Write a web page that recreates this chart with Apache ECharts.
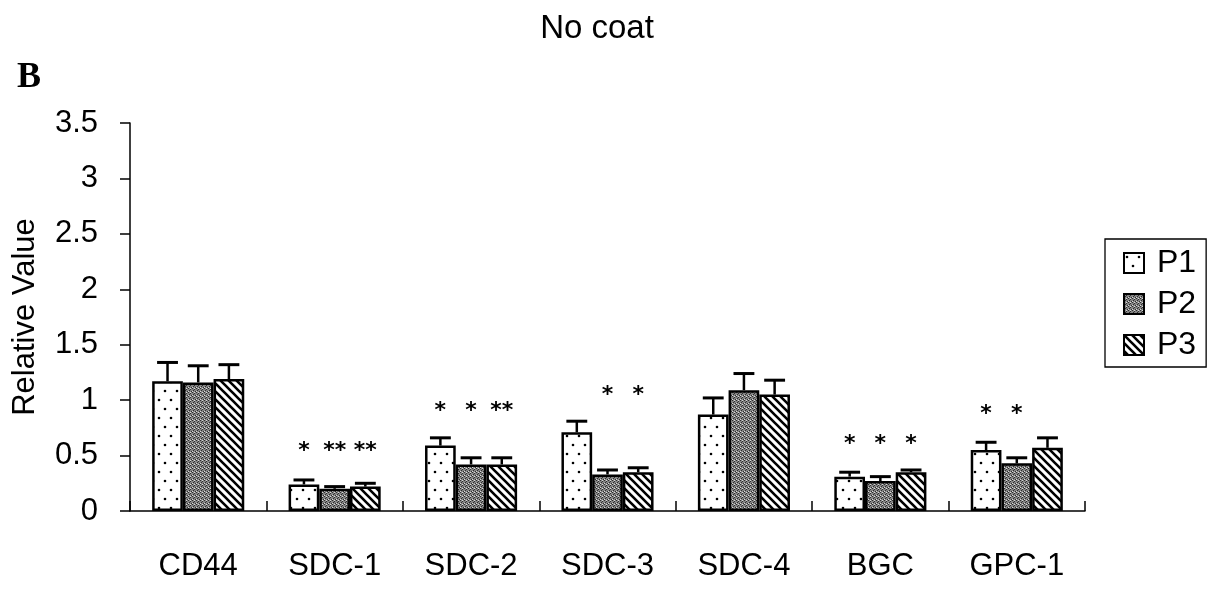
<!DOCTYPE html>
<html>
<head>
<meta charset="utf-8">
<title>No coat</title>
<script src="https://cdn.jsdelivr.net/npm/echarts@6/dist/echarts.min.js"></script>
<style>
  html, body { margin: 0; padding: 0; background: #fff; }
  #chart { width: 1213px; height: 592px; }
</style>
</head>
<body>
<div id="chart"></div>
<script>
  // values
  const categories = ['CD44', 'SDC-1', 'SDC-2', 'SDC-3', 'SDC-4', 'BGC', 'GPC-1']
  const seriesNames = ['P1', 'P2', 'P3']
  const p1 = [1.17, 0.24, 0.59, 0.71, 0.87, 0.31, 0.55]
  const p2 = [1.16, 0.20, 0.42, 0.33, 1.09, 0.27, 0.43]
  const p3 = [1.19, 0.22, 0.42, 0.35, 1.05, 0.35, 0.57]
  const p1Err = [0.17, 0.04, 0.07, 0.10, 0.15, 0.04, 0.07]
  const p2Err = [0.15, 0.02, 0.06, 0.04, 0.15, 0.04, 0.05]
  const p3Err = [0.13, 0.03, 0.06, 0.04, 0.13, 0.02, 0.09]
  const p1Stars = ['', '*', '*', '', '', '*', '*']
  const p2Stars = ['', '**', '*', '*', '', '*', '*']
  const p3Stars = ['', '**', '**', '*', '', '*', '']
  const starLevel = [0, 0.57, 0.93, 1.07, 0, 0.63, 0.90]
  const yTicks = [0, 0.5, 1, 1.5, 2, 2.5, 3, 3.5]

  const values = [p1, p2, p3]
  const errs = [p1Err, p2Err, p3Err]
  const stars = [p1Stars, p2Stars, p3Stars]
  const gapRatio = 0.325
  const font = '"Liberation Sans", Arial, sans-serif'

  function makeTile (w, h, draw) {
    let c = document.createElement('canvas')
    c.width = w
    c.height = h
    let ctx = c.getContext('2d')
    ctx.fillStyle = '#fff'
    ctx.fillRect(0, 0, w, h)
    draw(ctx)
    return c
  }

  // dotted
  let dotTile = makeTile(12, 18, function (ctx) {
    ctx.fillStyle = '#000'
    ctx.beginPath(); ctx.arc(3, 4, 1.3, 0, Math.PI * 2); ctx.fill()
    ctx.beginPath(); ctx.arc(9, 13, 1.3, 0, Math.PI * 2); ctx.fill()
  })
  // dark stipple
  let greyTile = makeTile(4, 4, function (ctx) {
    ctx.fillStyle = '#858585'
    ctx.fillRect(0, 0, 4, 4)
    ctx.fillStyle = '#2e2e2e'
    ctx.fillRect(0, 0, 1, 1); ctx.fillRect(2, 1, 1, 1)
    ctx.fillRect(1, 2, 1, 1); ctx.fillRect(3, 3, 1, 1)
    ctx.fillStyle = '#d8d8d8'
    ctx.fillRect(2, 0, 1, 1); ctx.fillRect(0, 3, 1, 1)
  })
  // diagonal hatch
  let hatchTile = makeTile(8, 8, function (ctx) {
    ctx.strokeStyle = '#000'
    ctx.lineWidth = 2.6
    ctx.beginPath()
    ctx.moveTo(-2, -2); ctx.lineTo(10, 10)
    ctx.moveTo(-2, 6); ctx.lineTo(2, 10)
    ctx.moveTo(6, -2); ctx.lineTo(10, 2)
    ctx.stroke()
  })
  const fills = [dotTile, greyTile, hatchTile]

  function barX (api, cat, s) {
    let band = api.size([1, 0])[0]
    let w = band * (1 - gapRatio) / 3
    let cx = api.coord([cat, 0])[0]
    return { x: cx + (s - 1) * w, w: w }
  }

  let errData = []
  let starData = []
  for (let s = 0; s < 3; s++) {
    for (let i = 0; i < categories.length; i++) {
      errData.push([i, s, values[s][i], values[s][i] + errs[s][i]])
      if (stars[s][i]) starData.push([i, s, starLevel[i], stars[s][i]])
    }
  }

  let barSeries = seriesNames.map(function (name, s) {
    return {
      name: name,
      type: 'bar',
      data: values[s],
      barGap: '0%',
      barCategoryGap: (gapRatio * 100) + '%',
      itemStyle: {
        color: { image: fills[s], repeat: 'repeat' },
        borderColor: '#000',
        borderWidth: 2.5
      }
    }
  })

  let chart = echarts.init(document.getElementById('chart'))
  chart.setOption({
    backgroundColor: '#fff',
    animation: false,
    title: [
      {
        text: 'No coat',
        left: 592,
        top: 7,
        textAlign: 'center',
        textStyle: { fontFamily: font, fontSize: 33, fontWeight: 'normal', color: '#000' }
      },
      {
        text: 'B',
        left: 12,
        top: 55,
        textStyle: { fontFamily: '"Liberation Serif", "Times New Roman", serif', fontSize: 36, fontWeight: 'bold', color: '#000' }
      }
    ],
    legend: {
      data: seriesNames,
      orient: 'vertical',
      icon: 'rect',
      left: 1105,
      top: 239,
      padding: [8, 10, 6, 18],
      itemWidth: 20,
      itemHeight: 20,
      itemGap: 9,
      borderColor: '#000',
      borderWidth: 1.3,
      textStyle: { fontFamily: font, fontSize: 32, color: '#000', lineHeight: 30, padding: [0, 0, 0, 8] }
    },
    grid: {
      left: 130,
      right: 128,
      top: 123,
      bottom: 81
    },
    xAxis: {
      type: 'category',
      data: categories,
      axisLine: { lineStyle: { color: '#000', width: 1.5 } },
      axisTick: { show: true, inside: true, length: 10, lineStyle: { color: '#000', width: 1.5 } },
      axisLabel: { margin: 40, fontFamily: font, fontSize: 31, color: '#000' }
    },
    yAxis: {
      type: 'value',
      min: yTicks[0],
      max: yTicks[yTicks.length - 1],
      interval: 0.5,
      name: 'Relative Value',
      nameLocation: 'middle',
      nameGap: 89,
      nameTextStyle: { fontFamily: font, fontSize: 31, color: '#000' },
      axisLine: { show: true, lineStyle: { color: '#000', width: 1.5 } },
      axisTick: { show: true, length: 10, lineStyle: { color: '#000', width: 1.5 } },
      splitLine: { show: false },
      axisLabel: { margin: 32, fontFamily: font, fontSize: 31, color: '#000' }
    },
    series: barSeries.concat([
      {
        name: 'err',
        type: 'custom',
        data: errData,
        z: 3,
        renderItem: function (params, api) {
          let b = barX(api, api.value(0), api.value(1))
          let yLow = api.coord([0, api.value(2)])[1]
          let yHigh = api.coord([0, api.value(3)])[1]
          let half = b.w * 0.34
          return {
            type: 'group',
            children: [
              { type: 'line', shape: { x1: b.x, y1: yLow, x2: b.x, y2: yHigh }, style: { stroke: '#000', lineWidth: 2.5 } },
              { type: 'line', shape: { x1: b.x - half, y1: yHigh, x2: b.x + half, y2: yHigh }, style: { stroke: '#000', lineWidth: 3 } }
            ]
          }
        }
      },
      {
        name: 'stars',
        type: 'custom',
        data: starData,
        z: 3,
        renderItem: function (params, api) {
          let b = barX(api, api.value(0), api.value(1))
          let y = api.coord([0, api.value(2)])[1]
          return {
            type: 'text',
            style: {
              x: b.x,
              y: y + 3,
              text: starData[params.dataIndex][3],
              align: 'center',
              verticalAlign: 'middle',
              fontFamily: '"DejaVu Sans", sans-serif',
              fontSize: 22,
              fontWeight: 'bold',
              fill: '#000'
            }
          }
        }
      }
    ])
  })
</script>
</body>
</html>
